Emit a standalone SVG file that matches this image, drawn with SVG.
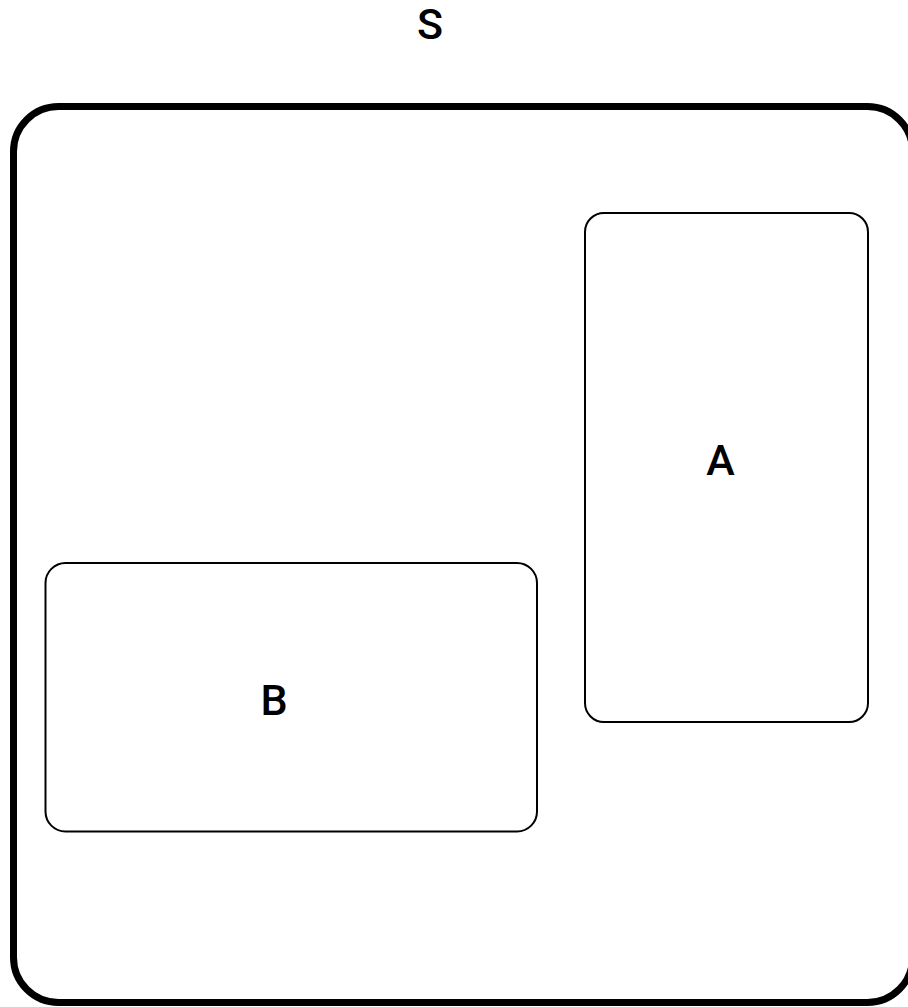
<svg xmlns="http://www.w3.org/2000/svg" width="908" height="1007" viewBox="0 0 908 1007">
<style>
.lbl{font-family:Roboto,"Liberation Sans",Arial,sans-serif;font-weight:500;font-size:43px;fill:#000;text-anchor:middle}
.node{fill:#fff;stroke:#000;stroke-width:2}
</style>
<rect width="908" height="1007" fill="#fff"/>
<g id="S">
<rect x="13.5" y="106.5" width="899" height="896" rx="45" ry="45" fill="#fff" stroke="#000" stroke-width="7"/>
<text class="lbl" x="430" y="39">S</text>
</g>
<g id="A">
<rect class="node" x="585" y="213" width="283" height="509" rx="19" ry="19"/>
<text class="lbl" x="720.5" y="475">A</text>
</g>
<g id="B">
<rect class="node" x="45.5" y="563" width="491.5" height="268.5" rx="20" ry="20"/>
<text class="lbl" x="274" y="715">B</text>
</g>
<g id="connectors"></g>
</svg>
